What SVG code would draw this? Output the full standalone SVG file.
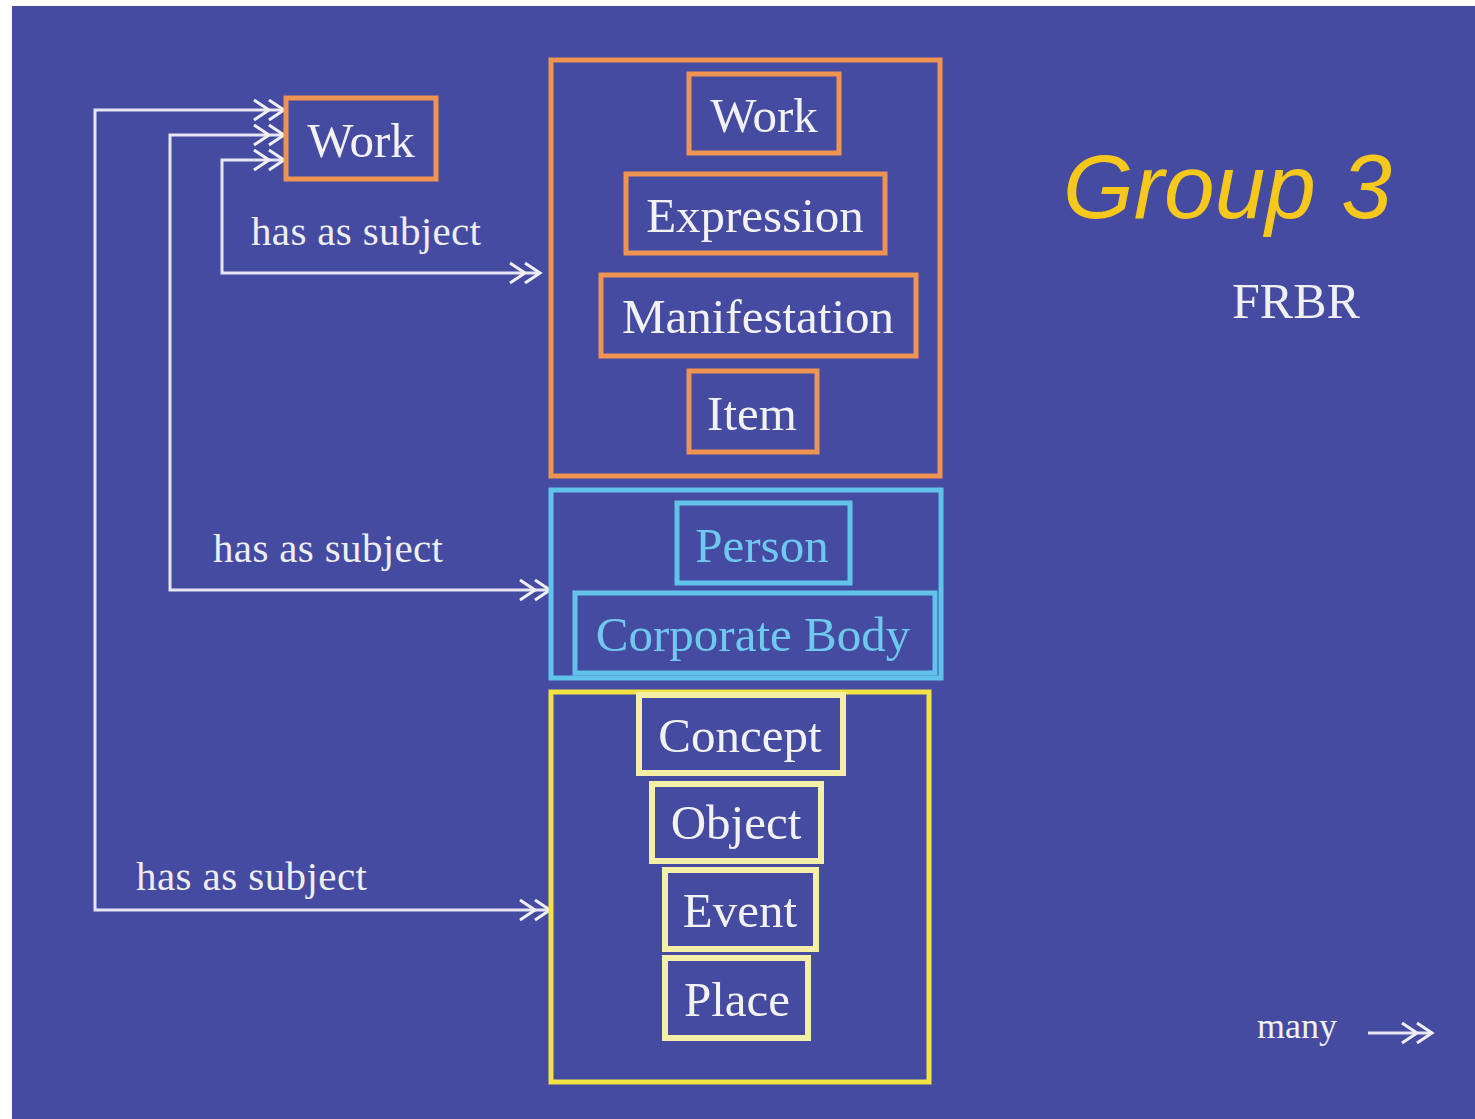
<svg xmlns="http://www.w3.org/2000/svg" width="1475" height="1119" viewBox="0 0 1475 1119">
<style>
.bg{fill:#454ba1}
.or{fill:none;stroke:#ef9450;stroke-width:5}
.cy{fill:none;stroke:#62c3ea;stroke-width:5}
.ye{fill:none;stroke:#f2e244;stroke-width:5}
.yp{fill:none;stroke:#f3efa6;stroke-width:6}
.lbl{font-family:"Liberation Serif","Times New Roman",serif;font-size:49px;fill:#f2f2f2;text-anchor:middle}
.lblc{fill:#6fc9ee}
.rel{font-family:"Liberation Serif","Times New Roman",serif;font-size:41px;fill:#eeeeee}
.con{fill:none;stroke:#e6e6f2;stroke-width:3}
.hd{fill:none;stroke:#f0f0f4;stroke-width:3;stroke-linejoin:miter}
</style>
<rect x="0" y="0" width="1475" height="1119" fill="#ffffff"/>
<rect class="bg" x="12" y="6" width="1463" height="1113"/>

<g id="connectors">
<path class="con" d="M540,273 H222 V160 H284"/>
<path class="con" d="M550,590 H170 V135 H284"/>
<path class="con" d="M550,910 H95 V110 H284"/>
<path class="hd" d="M269,100 L284,110 L269,120 M254,100 L269,110 L254,120"/>
<path class="hd" d="M269,125 L284,135 L269,145 M254,125 L269,135 L254,145"/>
<path class="hd" d="M269,150 L284,160 L269,170 M254,150 L269,160 L254,170"/>
<path class="hd" d="M525,263 L540,273 L525,283 M510,263 L525,273 L510,283"/>
<path class="hd" d="M535,580 L550,590 L535,600 M520,580 L535,590 L520,600"/>
<path class="hd" d="M535,900 L550,910 L535,920 M520,900 L535,910 L520,920"/>
<text class="rel" x="251" y="245" textLength="230" lengthAdjust="spacing">has as subject</text>
<text class="rel" x="213" y="562" textLength="230" lengthAdjust="spacing">has as subject</text>
<text class="rel" x="136" y="890" textLength="231" lengthAdjust="spacing">has as subject</text>
</g>

<g id="work-subject">
<rect class="or" x="286" y="98" width="150" height="81"/>
<text class="lbl" x="361" y="157">Work</text>
</g>

<g id="group1">
<rect class="or" x="551" y="60" width="389" height="416"/>
<g id="g1-work"><rect class="or" x="689" y="74" width="150" height="79"/><text class="lbl" x="764" y="132">Work</text></g>
<g id="g1-expression"><rect class="or" x="626" y="174" width="259" height="79"/><text class="lbl" x="755" y="232">Expression</text></g>
<g id="g1-manifestation"><rect class="or" x="601" y="275" width="315" height="81"/><text class="lbl" x="758" y="333">Manifestation</text></g>
<g id="g1-item"><rect class="or" x="689" y="371" width="128" height="81"/><text class="lbl" x="752" y="430">Item</text></g>
</g>

<g id="group2">
<rect class="cy" x="551" y="490" width="390" height="188"/>
<g id="g2-person"><rect class="cy" x="677" y="503" width="173" height="80"/><text class="lbl lblc" x="762" y="562">Person</text></g>
<g id="g2-corporate"><rect class="cy" x="575" y="593" width="360" height="80"/><text class="lbl lblc" x="753" y="651">Corporate Body</text></g>
</g>

<g id="group3">
<rect class="ye" x="551" y="692" width="378" height="390"/>
<g id="g3-concept"><rect class="yp" x="639" y="695" width="204" height="78"/><text class="lbl" x="740" y="752">Concept</text></g>
<g id="g3-object"><rect class="yp" x="652" y="784" width="169" height="77"/><text class="lbl" x="736" y="839">Object</text></g>
<g id="g3-event"><rect class="yp" x="665" y="870" width="151" height="79"/><text class="lbl" x="740" y="927">Event</text></g>
<g id="g3-place"><rect class="yp" x="665" y="958" width="143" height="80"/><text class="lbl" x="737" y="1016">Place</text></g>
</g>

<g id="title">
<text x="1063" y="218" font-family="Liberation Sans, Arial, sans-serif" font-style="italic" font-size="91" fill="#f6c81c">Group 3</text>
<text x="1296" y="318" font-family="Liberation Serif, Times New Roman, serif" font-size="50" fill="#f0f0f0" text-anchor="middle">FRBR</text>
</g>

<g id="legend">
<text x="1257" y="1038" font-family="Liberation Serif, Times New Roman, serif" font-size="36" fill="#f0f0f0">many</text>
<path class="con" d="M1368,1033 H1432"/>
<path class="hd" d="M1417,1023 L1432,1033 L1417,1043 M1402,1023 L1417,1033 L1402,1043"/>
</g>
</svg>
